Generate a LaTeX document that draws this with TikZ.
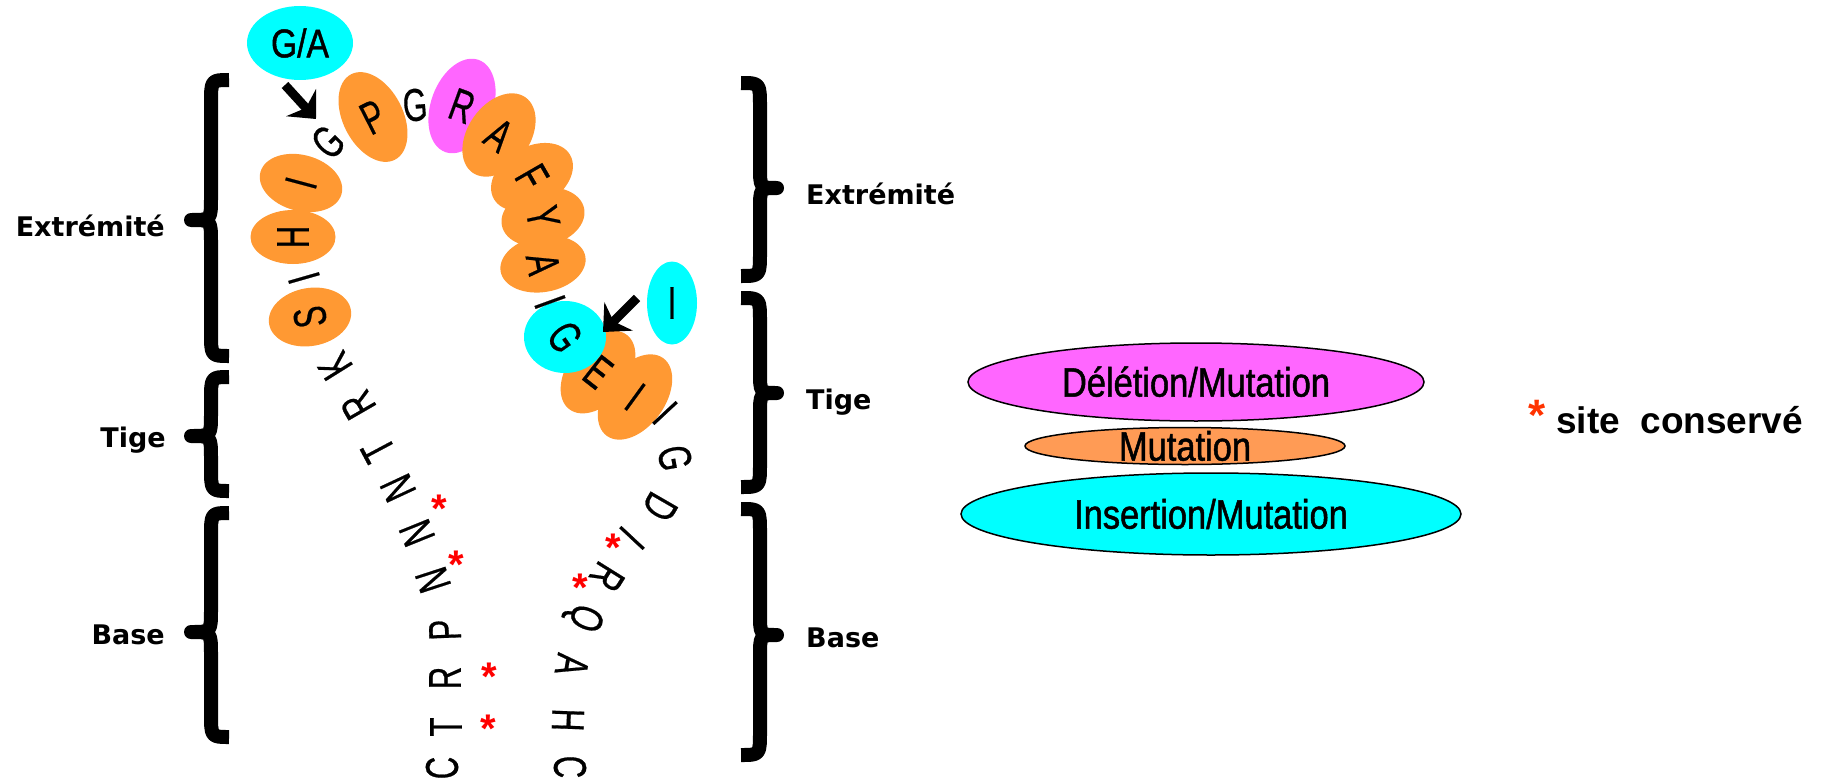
\documentclass[tikz,border=0pt]{standalone}
\usepackage{fontspec}
\usepackage{graphicx}
\setmainfont{Liberation Sans}
\newfontfamily\seqfont{Liberation Sans}[FakeBold=0.6]
\newfontfamily\legfont{Liberation Sans}[FakeStretch=0.84,FakeBold=1.2]
\newfontfamily\labfont{DejaVu Sans}
\newcommand\sq[1]{\scalebox{0.68}[1]{#1}}
\usetikzlibrary{shapes.geometric,arrows.meta}
\definecolor{sqorange}{RGB}{255,153,51}
\definecolor{sqpink}{RGB}{255,102,255}
\definecolor{sqcyan}{RGB}{0,255,255}
\definecolor{lgorange}{RGB}{255,155,85}
\definecolor{starred}{RGB}{255,0,0}
\definecolor{starorange}{RGB}{255,51,0}
\newcommand\mybraceL[3]{\draw[brc] (229,#1) .. controls (211,#1) .. (211,#1+24) -- (211,#3-22) .. controls (211,#3) .. (191,#3) .. controls (211,#3) .. (211,#3+22) -- (211,#2-24) .. controls (211,#2) .. (229,#2);}
\newcommand\mybraceR[3]{\draw[brc] (741,#1) .. controls (760,#1) .. (760,#1+24) -- (760,#3-22) .. controls (760,#3) .. (777,#3) .. controls (760,#3) .. (760,#3+22) -- (760,#2-24) .. controls (760,#2) .. (741,#2);}
\begin{document}
\begin{tikzpicture}[x=1pt,y=-1pt,
  seqltr/.style={inner sep=0pt, font=\seqfont\fontsize{46}{46}\selectfont},
  oval/.style={ellipse, inner sep=0pt, draw=none},
  legoval/.style={ellipse, inner sep=0pt, draw=black, line width=1.5pt},
  legtxt/.style={inner sep=0pt, anchor=base, font=\legfont\fontsize{41}{41}\selectfont},
  lab/.style={inner sep=0pt, font=\labfont\bfseries\fontsize{27}{27}\selectfont},
  seqstar/.style={inner sep=0pt, anchor=base, text=starred, font=\bfseries\fontsize{40}{40}\selectfont},
  brc/.style={line width=14pt, line join=round, line cap=butt},
  bigarr/.style={line width=9pt, -{Stealth[length=22pt, width=40pt, inset=7pt]}}]
\useasboundingbox (0,0) rectangle (1823,784);

% braces
\mybraceL{80}{356}{220}
\mybraceL{377}{491}{436}
\mybraceL{513}{737}{632}
\mybraceR{83}{276}{188}
\mybraceR{298}{487}{393}
\mybraceR{509}{755}{635}

% brace labels
\node[lab, anchor=base east] (lext) at (165,236) {Extrémité};
\node[lab, anchor=base east] (ltig) at (166,447) {Tige};
\node[lab, anchor=base east] (lbas) at (165,644) {Base};
\node[lab, anchor=base west] (rext) at (806,204) {Extrémité};
\node[lab, anchor=base west] (rtig) at (806,409) {Tige};
\node[lab, anchor=base west] (rbas) at (806,647) {Base};

% sequence ellipses
\node[oval, fill=sqpink, minimum width=62, minimum height=98, rotate=-20] (eR1) at (462,106) {};
\node[oval, fill=sqorange, minimum width=56, minimum height=84, rotate=75] (eI1) at (301,183) {};
\node[oval, fill=sqorange, minimum width=54, minimum height=85, rotate=90] (eH) at (293,237) {};
\node[oval, fill=sqorange, minimum width=58, minimum height=83, rotate=100] (eS) at (310,317) {};
\node[oval, fill=sqorange, minimum width=60, minimum height=96, rotate=27] (eP) at (373,117) {};
\node[oval, fill=sqorange, minimum width=62, minimum height=92, rotate=-35] (eA1) at (499,135) {};
\node[oval, fill=sqorange, minimum width=60, minimum height=88, rotate=-60] (eF) at (532,177) {};
\node[oval, fill=sqorange, minimum width=58, minimum height=84, rotate=-78] (eY) at (543,217) {};
\node[oval, fill=sqorange, minimum width=56, minimum height=86, rotate=-80] (eA2) at (543,264) {};
\node[oval, fill=sqorange, minimum width=60, minimum height=94, rotate=-38] (eE) at (598,372) {};
\node[oval, fill=sqorange, minimum width=60, minimum height=96, rotate=-36] (eI2) at (635,397) {};
\node[oval, fill=sqcyan, minimum width=82, minimum height=72] (eG) at (565,337) {};
\node[oval, fill=sqcyan, minimum width=50, minimum height=83] (eI3) at (672,303) {};
\node[oval, fill=sqcyan, minimum width=106, minimum height=74] (eGA) at (300,43) {};

% letters inside ellipses
\node[seqltr, rotate=-20] (lR) at (eR1) {\sq{R}};
\node[seqltr, rotate=75] (lI1) at (eI1) {\sq{I}};
\node[seqltr, rotate=90] (lH) at (eH) {\sq{H}};
\node[seqltr, rotate=100] (lS) at (eS) {\sq{S}};
\node[seqltr, rotate=27] (lP) at (eP) {\sq{P}};
\node[seqltr, rotate=-35] (lA1) at (eA1) {\sq{A}};
\node[seqltr, rotate=-60] (lF) at (eF) {\sq{F}};
\node[seqltr, rotate=-78] (lY) at (eY) {\sq{Y}};
\node[seqltr, rotate=-80] (lA2) at (eA2) {\sq{A}};
\node[seqltr, rotate=-38] (lE) at (eE) {\sq{E}};
\node[seqltr, rotate=-36] (lI2) at (eI2) {\sq{I}};
\node[seqltr, rotate=-55] (lG) at (eG) {\sq{G}};
\node[seqltr] (lI3) at (eI3) {\sq{I}};
\node[inner sep=0pt, font=\legfont\fontsize{40}{40}\selectfont] (tGA) at (eGA) {G/A};

% plain letters
\foreach \nm/\px/\py/\ang/\ltr in {
 c1/442/768/90/C, t1/446/727/90/T, r1/445/678/90/R, p1/445/630/92/P,
 n1/433/580/108/N, n2/417/533/112/N, n3/398/488/115/N, t2/378/450/118/T,
 r2/358/405/120/R, k1/335/366/122/K, i1/304/278/106/I, g1/328/142/45/G,
 g2/415/105/5/G, i2/550/302/-70/I, i3/665/413/-47/I, g3/675/458/-80/G,
 d1/660/507/-120/D, i4/632/538/-133/I, r3/607/577/-122/R, q1/583/617/-112/Q,
 a3/572/665/-100/A, h2/568/720/-92/H, c2/570/767/-90/C}
  \node[seqltr, rotate=\ang] (\nm) at (\px,\py) {\sq{\ltr}};

% conserved sites
\foreach \nm/\px/\py in {st1/439/499, st2/456/555, st3/489/667, st4/488/719, st5/613/538, st6/580/578}
  \node[seqstar] (\nm) at (\px,\py+23) {*};

% insertion arrows
\coordinate (a1s) at (285,85);
\coordinate (a1e) at (316,119);
\draw[bigarr] (a1s) -- (a1e);
\coordinate (a2s) at (637,298);
\coordinate (a2e) at (603,332);
\draw[bigarr] (a2s) -- (a2e);

% legend
\node[legoval, fill=sqpink, minimum width=456, minimum height=78] (ldel) at (1196,382) {};
\node[legoval, fill=lgorange, minimum width=320, minimum height=37] (lmut) at (1185,446) {};
\node[legoval, fill=sqcyan, minimum width=500, minimum height=82] (lins) at (1211,514) {};
\node[legtxt] (tdel) at ([yshift=-14.6pt]ldel.center) {Délétion/Mutation};
\node[legtxt] (tmut) at ([yshift=-14.6pt]lmut.center) {Mutation};
\node[legtxt] (tins) at ([yshift=-14.6pt]lins.center) {Insertion/Mutation};
\node[inner sep=0pt, anchor=base, text=starorange, font=\bfseries\fontsize{44}{44}\selectfont] (lstar) at (1537,430) {*};
\node[inner sep=0pt, anchor=base west, font=\bfseries\fontsize{37}{37}\selectfont] (lsite) at (1556,433) {site\ \ conservé};
\end{tikzpicture}
\end{document}
